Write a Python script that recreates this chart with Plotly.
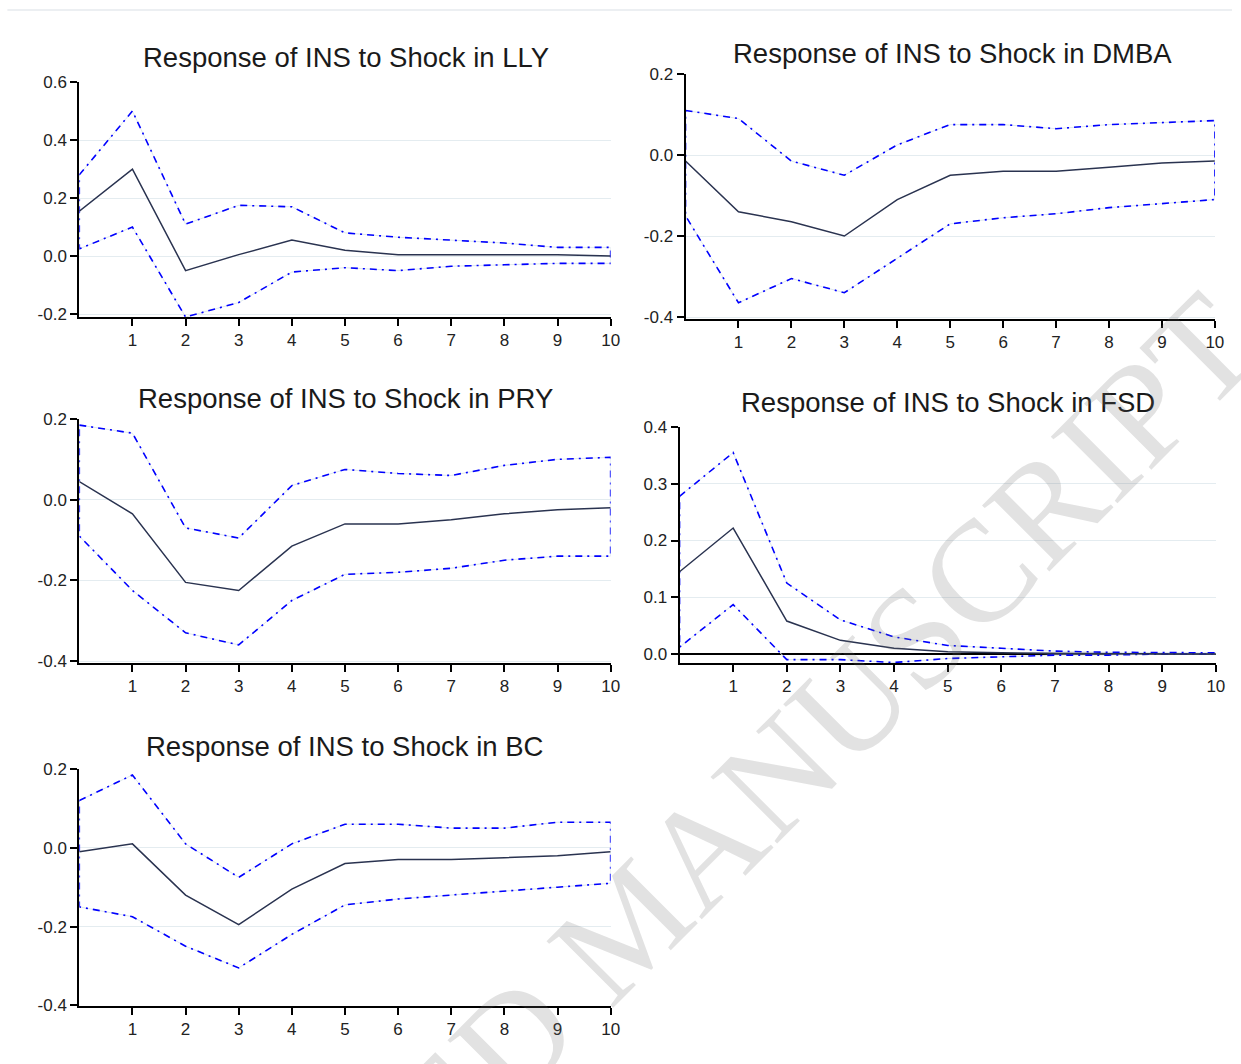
import plotly.graph_objects as go

W, H = 1241, 1064

periods = list(range(0, 11))
x_tick_vals = list(range(1, 11))

titles = [
    "Response of INS to Shock in LLY",
    "Response of INS to Shock in DMBA",
    "Response of INS to Shock in PRY",
    "Response of INS to Shock in FSD",
    "Response of INS to Shock in BC",
]

# --- responses and confidence bands ---
lly_resp = [0.155, 0.300, -0.050, 0.005, 0.055, 0.020, 0.005, 0.005, 0.005, 0.005, 0.000]
lly_up   = [0.280, 0.500, 0.110, 0.175, 0.170, 0.080, 0.065, 0.055, 0.045, 0.030, 0.030]
lly_lo   = [0.025, 0.100, -0.210, -0.160, -0.055, -0.040, -0.050, -0.035, -0.030, -0.025, -0.025]

dmba_resp = [-0.015, -0.140, -0.165, -0.200, -0.110, -0.050, -0.040, -0.040, -0.030, -0.020, -0.015]
dmba_up   = [0.110, 0.090, -0.015, -0.050, 0.025, 0.075, 0.075, 0.065, 0.075, 0.080, 0.085]
dmba_lo   = [-0.150, -0.365, -0.305, -0.340, -0.255, -0.170, -0.155, -0.145, -0.130, -0.120, -0.110]

pry_resp = [0.045, -0.035, -0.205, -0.225, -0.115, -0.060, -0.060, -0.050, -0.035, -0.025, -0.020]
pry_up   = [0.185, 0.165, -0.070, -0.095, 0.035, 0.075, 0.065, 0.060, 0.085, 0.100, 0.105]
pry_lo   = [-0.090, -0.225, -0.330, -0.360, -0.250, -0.185, -0.180, -0.170, -0.150, -0.140, -0.140]

fsd_resp = [0.145, 0.222, 0.058, 0.024, 0.010, 0.004, 0.002, 0.001, 0.001, 0.000, 0.000]
fsd_up   = [0.278, 0.355, 0.125, 0.060, 0.030, 0.015, 0.010, 0.005, 0.003, 0.002, 0.002]
fsd_lo   = [0.012, 0.087, -0.010, -0.010, -0.015, -0.008, -0.005, -0.002, -0.002, 0.000, 0.000]

bc_resp = [-0.010, 0.010, -0.120, -0.195, -0.105, -0.040, -0.030, -0.030, -0.025, -0.020, -0.010]
bc_up   = [0.120, 0.185, 0.010, -0.075, 0.010, 0.060, 0.060, 0.050, 0.050, 0.065, 0.065]
bc_lo   = [-0.150, -0.175, -0.250, -0.305, -0.220, -0.145, -0.130, -0.120, -0.110, -0.100, -0.090]

y_ticks = [
    [-0.2, 0.0, 0.2, 0.4, 0.6],
    [-0.4, -0.2, 0.0, 0.2],
    [-0.4, -0.2, 0.0, 0.2],
    [0.0, 0.1, 0.2, 0.3, 0.4],
    [-0.4, -0.2, 0.0, 0.2],
]
y_tick_text = [
    ["-0.2", "0.0", "0.2", "0.4", "0.6"],
    ["-0.4", "-0.2", "0.0", "0.2"],
    ["-0.4", "-0.2", "0.0", "0.2"],
    ["0.0", "0.1", "0.2", "0.3", "0.4"],
    ["-0.4", "-0.2", "0.0", "0.2"],
]
y_ranges = [[-0.21, 0.6], [-0.405, 0.2], [-0.405, 0.2], [-0.016, 0.4], [-0.402, 0.2]]

panels = [
    (lly_resp, lly_up, lly_lo),
    (dmba_resp, dmba_up, dmba_lo),
    (pry_resp, pry_up, pry_lo),
    (fsd_resp, fsd_up, fsd_lo),
    (bc_resp, bc_up, bc_lo),
]

# target pixel boxes in the photographed page: (left, right, top, bottom), title centres
boxes = [(78, 610, 81, 316), (685, 1215, 73, 318), (78, 610, 418, 662),
         (679, 1216, 426, 662), (78, 610, 768, 1005)]
title_pos = [(345, 56), (952, 52), (345, 397), (948, 401), (344, 745)]


# the photographed page is slightly rescaled/offset; map target pixels to figure pixels
def fx(px):
    return (px + 1.4) / 0.994


def fy(py):
    return (py - 8.0) / 0.983


FONT = "Liberation Sans, Arial, sans-serif"
NAVY = "#2a3350"
BLUE = "#0000ff"

fig = go.Figure()
layout = dict(
    width=W, height=H, margin=dict(l=0, r=0, t=0, b=0),
    paper_bgcolor="white", plot_bgcolor="white", showlegend=False,
    annotations=[], shapes=[],
)

for i, (resp, up, lo) in enumerate(panels):
    n = "" if i == 0 else str(i + 1)
    xa, ya = "x" + n, "y" + n
    band_x = periods + periods[::-1] + [periods[0]]
    band_y = up + lo[::-1] + [up[0]]
    # faint underlay that joins the dashes
    fig.add_trace(go.Scatter(x=band_x, y=band_y, mode="lines", xaxis=xa, yaxis=ya,
                             line=dict(color="#dfe8ee", width=1), hoverinfo="skip"))
    fig.add_trace(go.Scatter(x=band_x, y=band_y, mode="lines", xaxis=xa, yaxis=ya,
                             line=dict(color=BLUE, width=1.6, dash="7px,5px,2px,5px")))
    fig.add_trace(go.Scatter(x=periods, y=resp, mode="lines", xaxis=xa, yaxis=ya,
                             line=dict(color=NAVY, width=1.5)))
    l, r, t, b = boxes[i]
    layout["xaxis" + n] = dict(
        domain=[fx(l) / W, fx(r) / W], anchor=ya, range=[0, 10],
        tickvals=x_tick_vals, ticktext=[str(v) for v in x_tick_vals],
        ticks="outside", ticklen=7, tickwidth=1.5, tickcolor="black",
        showline=True, linecolor="black", linewidth=2, showgrid=False, zeroline=False,
        tickfont=dict(family=FONT, size=17, color="#222222"),
    )
    layout["yaxis" + n] = dict(
        domain=[1 - fy(b) / H, 1 - fy(t) / H], anchor=xa, range=y_ranges[i],
        tickvals=y_ticks[i], ticktext=y_tick_text[i],
        ticks="outside", ticklen=7, tickwidth=1.5, tickcolor="black",
        showline=True, linecolor="black", linewidth=2,
        showgrid=True, gridcolor="#e4ecf0", gridwidth=1,
        zeroline=(i == 3), zerolinecolor="black", zerolinewidth=1.5,
        tickfont=dict(family=FONT, size=17, color="#222222"),
    )
    tx, ty = title_pos[i]
    layout["annotations"].append(dict(
        text=titles[i], xref="paper", yref="paper", x=fx(tx) / W, y=1 - fy(ty) / H,
        xanchor="center", yanchor="middle", showarrow=False,
        font=dict(family=FONT, size=27.5, color="#1a1a1a"),
    ))

# watermark
layout["annotations"].append(dict(
    text="ACCEPTED MANUSCRIPT", xref="paper", yref="paper",
    x=fx(627) / W, y=1 - fy(923) / H, xanchor="center", yanchor="middle",
    textangle=-45, showarrow=False,
    font=dict(family="Liberation Serif, Times New Roman, serif", size=144,
              color="rgba(110,110,110,0.2)"),
))
# thin top border line
ytop = max(fy(8), 1.0)
layout["shapes"].append(dict(type="line", xref="paper", yref="paper",
                             x0=fx(6) / W, x1=1, y0=1 - ytop / H, y1=1 - ytop / H,
                             line=dict(color="#e6eaee", width=1.5)))

fig.update_layout(**layout)
fig.write_html("out.html", config={"displayModeBar": False},
               post_script="document.body.style.margin='0';document.body.style.overflow='hidden';")
